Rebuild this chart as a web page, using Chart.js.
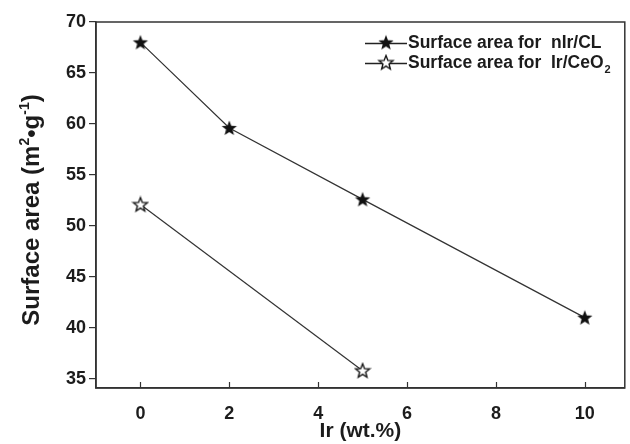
<!DOCTYPE html>
<html>
<head>
<meta charset="utf-8">
<script src="https://cdn.jsdelivr.net/npm/chart.js@4.4.0/dist/chart.umd.min.js"></script>
<style>
  html, body { margin: 0; padding: 0; background: #fff; }
  #wrap { width: 630px; height: 444px; }
</style>
</head>
<body>
<div id="wrap"><canvas id="surfaceChart" width="630" height="444"></canvas></div>
<script>
// data
const nIrLoading = [0, 2, 5, 10];
const nIrArea = [68, 59.6, 52.6, 41];
const ceoLoading = [0, 5];
const ceoArea = [52.1, 35.8];
const xTicks = [0, 2, 4, 6, 8, 10];
const yTicks = [35, 40, 45, 50, 55, 60, 65, 70];
const seriesLabels = ["Surface area for  nIr/CL", "Surface area for  Ir/CeO"];
// y title pieces: [text, isSuperscript]
const yTitleParts = [["Surface area (m", false], ["2", true], ["•g", false], ["-1", true], [")", false]];

const FONT = "'Liberation Sans', Arial, sans-serif";
const INK = "#1c1c1c";

// build a star image to use as pointStyle
const makeStar = (filled) => {
  const c = document.createElement("canvas");
  c.width = 18; c.height = 18;
  const g = c.getContext("2d");
  const outer = filled ? 8 : 7.4, inner = filled ? 3.4 : 3.2;
  g.beginPath();
  for (let i = 0; i < 10; i++) {
    const r = i % 2 === 0 ? outer : inner;
    const a = -Math.PI / 2 + i * Math.PI / 5;
    const px = 9 + r * Math.cos(a), py = 9.5 + r * Math.sin(a);
    i === 0 ? g.moveTo(px, py) : g.lineTo(px, py);
  }
  g.closePath();
  if (filled) {
    g.fillStyle = "#111";
    g.fill();
  } else {
    g.fillStyle = "#fff";
    g.fill();
    g.lineWidth = 1.4;
    g.strokeStyle = "#111";
    g.stroke();
  }
  return c;
};
const filledStar = makeStar(true);
const hollowStar = makeStar(false);

// frame on top/right, inward ticks on x axis, y title, legend in the corner
const framePlugin = {
  id: "frame",
  afterDraw(chart) {
    const { ctx, chartArea: a, scales } = chart;
    ctx.save();
    ctx.strokeStyle = "#333";
    ctx.lineWidth = 1.5;
    ctx.strokeRect(a.left, a.top, a.right - a.left, a.bottom - a.top);
    ctx.lineWidth = 1.2;
    xTicks.forEach((v) => {
      const px = Math.round(scales.x.getPixelForValue(v)) + 0.5;
      ctx.beginPath();
      ctx.moveTo(px, a.bottom);
      ctx.lineTo(px, a.bottom - 6);
      ctx.stroke();
    });

    // y axis title with real superscripts
    const big = "bold 24px " + FONT, small = "bold 14px " + FONT;
    ctx.fillStyle = INK;
    ctx.textBaseline = "alphabetic";
    ctx.textAlign = "left";
    let total = 0;
    yTitleParts.forEach(([t, sup]) => {
      ctx.font = sup ? small : big;
      total += ctx.measureText(t).width;
    });
    ctx.save();
    ctx.translate(39, (a.top + a.bottom) / 2 + 5);
    ctx.rotate(-Math.PI / 2);
    let cx = -total / 2;
    yTitleParts.forEach(([t, sup]) => {
      ctx.font = sup ? small : big;
      ctx.fillText(t, cx, sup ? -10 : 0);
      cx += ctx.measureText(t).width;
    });
    ctx.restore();

    // legend
    const stars = [filledStar, hollowStar];
    const rows = [43, 63];
    const symX = 365;
    chart.data.datasets.forEach((ds, i) => {
      const y = rows[i];
      ctx.strokeStyle = "#222";
      ctx.lineWidth = 1.3;
      ctx.beginPath();
      ctx.moveTo(symX, y + 0.5);
      ctx.lineTo(symX + 42, y + 0.5);
      ctx.stroke();
      ctx.drawImage(stars[i], symX + 21 - 9, y - 9.5);
      ctx.fillStyle = INK;
      ctx.font = "bold 17.5px " + FONT;
      ctx.textBaseline = "middle";
      ctx.textAlign = "left";
      ctx.fillText(ds.label, symX + 43, y);
      if (i === 1) {
        const w = ctx.measureText(ds.label).width;
        ctx.font = "bold 11px " + FONT;
        ctx.fillText("2", symX + 44 + w, y + 7);
      }
    });
    ctx.restore();
  },
};

const ctx = document.getElementById("surfaceChart").getContext("2d");

new Chart(ctx, {
  type: "line",
  data: {
    datasets: [
      {
        label: seriesLabels[0],
        data: nIrLoading.map((x, i) => ({ x, y: nIrArea[i] })),
        borderColor: "#333",
        borderWidth: 1.2,
        pointStyle: filledStar,
        tension: 0,
      },
      {
        label: seriesLabels[1],
        data: ceoLoading.map((x, i) => ({ x, y: ceoArea[i] })),
        borderColor: "#333",
        borderWidth: 1.2,
        pointStyle: hollowStar,
        tension: 0,
      },
    ],
  },
  options: {
    responsive: false,
    animation: false,
    layout: { padding: { top: 22, right: 4, left: 0, bottom: 0 } },
    plugins: {
      legend: { display: false },
      tooltip: { enabled: false },
    },
    scales: {
      x: {
        type: "linear",
        min: -1,
        max: 10.9,
        afterBuildTicks: (s) => { s.ticks = xTicks.map((v) => ({ value: v })); },
        afterFit: (s) => { s.height = 56; },
        grid: { display: false },
        border: { display: true, color: "#333", width: 1.5 },
        ticks: {
          padding: 7,
          color: INK,
          font: { family: FONT, size: 18, weight: "bold" },
        },
        title: {
          display: true,
          text: "Ir (wt.%)",
          color: INK,
          font: { family: FONT, size: 21, weight: "bold" },
          padding: { top: 0, bottom: 0 },
        },
      },
      y: {
        type: "linear",
        min: 34.1,
        max: 70,
        afterBuildTicks: (s) => { s.ticks = yTicks.map((v) => ({ value: v })); },
        afterFit: (s) => { s.width = 96; },
        grid: { drawOnChartArea: false, drawTicks: true, tickLength: 7, color: "#333", lineWidth: 1.2 },
        border: { display: true, color: "#333", width: 1.5 },
        ticks: {
          padding: 3,
          color: INK,
          font: { family: FONT, size: 18, weight: "bold" },
        },
        title: { display: false },
      },
    },
  },
  plugins: [framePlugin],
});
</script>
</body>
</html>
